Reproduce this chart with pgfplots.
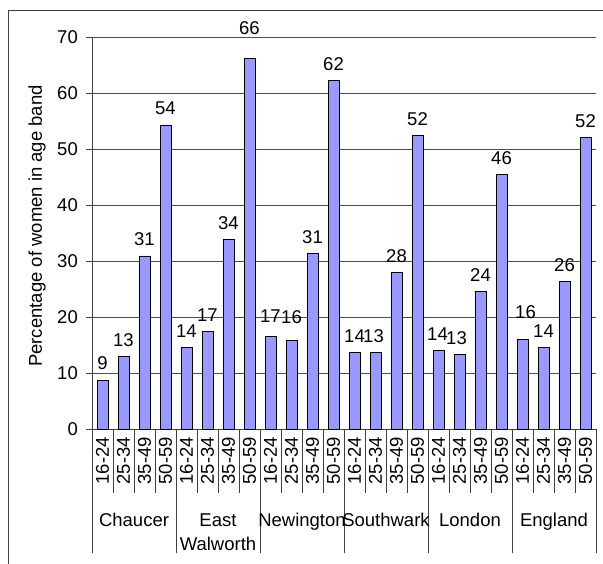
\documentclass[border=0pt]{standalone}
\usepackage{fontspec}
\setmainfont{Liberation Sans}
\usepackage{pgfplots}
\pgfplotsset{compat=1.18}
\definecolor{barblue}{RGB}{153,153,255}
\newcommand{\cf}{\fontsize{18.5bp}{22bp}\selectfont}
\begin{document}
\begin{tikzpicture}
\useasboundingbox (0,0) rectangle (603bp,564bp);
\clip (0,0) rectangle (603bp,564bp);
\draw[line width=1.6bp, black!75] (8.5bp,-10bp) -- (8.5bp,553.5bp) -- (620bp,553.5bp);
\node[rotate=90, font=\cf] at (37bp,338bp) {Percentage of women in age band};
\begin{axis}[
 at={(92bp,135bp)}, anchor=south west, scale only axis, width=504bp, height=392bp,
 xmin=-0.5, xmax=23.5, ymin=0, ymax=70,
 ytick={0,10,...,70},
 xtick={0,...,23},
 xticklabels={16-24,25-34,35-49,50-59,16-24,25-34,35-49,50-59,16-24,25-34,35-49,50-59,16-24,25-34,35-49,50-59,16-24,25-34,35-49,50-59,16-24,25-34,35-49,50-59},
 x tick label style={rotate=90, anchor=east, font=\cf, inner sep=2bp},
 y tick label style={font=\cf, inner sep=2bp, xshift=-6bp},
 xtick style={draw=none},
 ytick style={black!75, line width=0.8bp},
 tick align=outside, major tick length=6bp,
 axis x line*=bottom, axis y line*=left,
 axis line style={-, black!75, line width=0.8bp},
 ymajorgrids, grid style={black!70, line width=0.8bp},
 /pgf/number format/assume math mode=true,
 clip=false,
 lab/.style={only marks, mark=none, nodes near coords, point meta=explicit symbolic,
   every node near coord/.append style={font=\cf, anchor=base, inner sep=0pt, yshift=#1}},
]
\addplot[ybar, bar width=11bp, bar shift=0pt, fill=barblue, draw=black, line width=0.8bp] coordinates {
 (0,8.75) (1,12.9) (2,30.9) (3,54.3)
 (4,14.5) (5,17.4) (6,33.9) (7,66.1)
 (8,16.6) (9,15.8) (10,31.4) (11,62.3)
 (12,13.6) (13,13.6) (14,27.9) (15,52.4)
 (16,14.0) (17,13.3) (18,24.5) (19,45.5)
 (20,16.0) (21,14.5) (22,26.3) (23,52.0)};
% data labels
\addplot[lab=10bp] coordinates {
 (0,8.75)[9] (1,12.9)[13] (2,30.9)[31] (3,54.3)[54]
 (4,14.5)[14] (5,17.4)[17] (6,33.9)[34]
 (10,31.4)[31] (11,62.3)[62]
 (12,13.6)[14] (14,27.9)[28] (15,52.4)[52]
 (18,24.5)[24] (19,45.5)[46]
 (21,14.5)[14] (22,26.3)[26] (23,52.0)[52]};
\addplot[lab=24bp] coordinates {(7,66.1)[66]};
\addplot[lab=14bp] coordinates {(8,16.6)[17]};
\addplot[lab=17bp] coordinates {(9,15.8)[16]};
\addplot[lab=10bp, every node near coord/.append style={xshift=-2bp}] coordinates {(13,13.6)[13]};
\addplot[lab=10bp, every node near coord/.append style={xshift=-1bp}] coordinates {(16,14.0)[14]};
\addplot[lab=10bp, every node near coord/.append style={xshift=-3bp}] coordinates {(17,13.3)[13]};
\addplot[lab=21bp, every node near coord/.append style={xshift=3bp}] coordinates {(20,16.0)[16]};
\pgfplotsinvokeforeach{-0.5,0.5,...,23.5}{\draw[black!75, line width=0.8bp] (axis cs:#1,0) -- ++(0pt,-64bp);}
\pgfplotsinvokeforeach{-0.5,3.5,...,23.5}{\draw[black!75, line width=0.8bp] (axis cs:#1,0) -- ++(0pt,-124bp);}
\node[font=\cf, anchor=base, yshift=-97bp] at (axis cs:1.5,0) {Chaucer};
\node[font=\cf, anchor=base, yshift=-97bp] at (axis cs:5.5,0) {East};
\node[font=\cf, anchor=base, yshift=-121bp] at (axis cs:5.5,0) {Walworth};
\node[font=\cf, anchor=base, yshift=-97bp] at (axis cs:9.5,0) {Newington};
\node[font=\cf, anchor=base, yshift=-97bp] at (axis cs:13.5,0) {Southwark};
\node[font=\cf, anchor=base, yshift=-97bp] at (axis cs:17.5,0) {London};
\node[font=\cf, anchor=base, yshift=-97bp] at (axis cs:21.5,0) {England};
\end{axis}
\end{tikzpicture}
\end{document}
